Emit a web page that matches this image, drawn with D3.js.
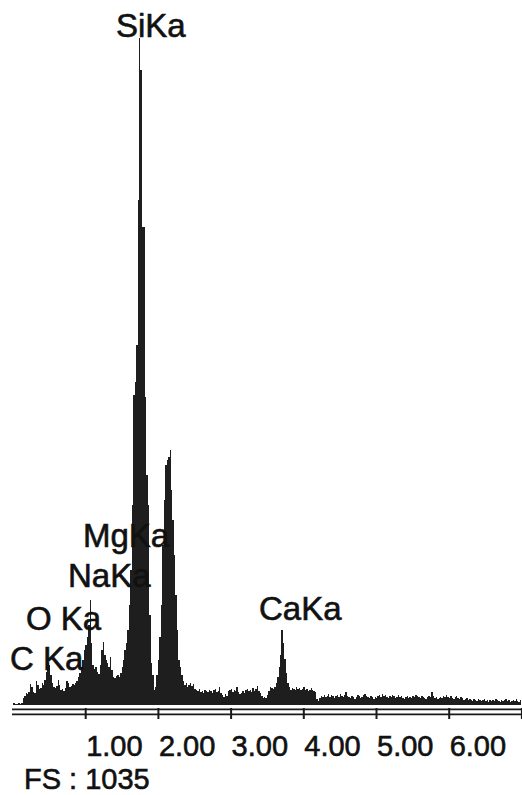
<!DOCTYPE html>
<html>
<head>
<meta charset="utf-8">
<script src="https://cdn.jsdelivr.net/npm/d3@7"></script>
<style>
  html, body { margin: 0; padding: 0; background: #ffffff; }
  svg { display: block; }
  text { font-family: "Liberation Sans", Arial, Helvetica, sans-serif; fill: #111; stroke: #111; stroke-width: 0.6px; }
</style>
</head>
<body>
<div id="chart"></div>
<script>
// ---- DATA ----
// EDS spectrum: counts per channel, channel width 0.02 keV, starting at 0 keV
const channelWidthKeV = 0.02;
const counts = [
  3,3,2,2,3,2,3,11,14,19,
  17,20,33,28,20,19,37,31,25,26,
  34,31,39,51,65,62,47,34,28,26,
  29,39,31,23,25,22,26,37,34,28,
  29,33,31,34,37,43,50,59,70,85,
  93,105,124,163,96,62,56,59,51,48,
  62,85,98,78,70,65,59,74,54,43,
  42,45,47,43,50,59,70,85,96,116,
  155,209,310,481,501,558,783,1035,985,742,
  742,478,357,310,140,65,47,23,28,47,
  70,105,155,248,318,372,380,385,396,333,
  287,233,171,116,70,59,47,37,31,34,
  28,31,34,29,33,25,23,22,25,20,
  22,19,23,22,20,23,22,19,23,25,
  20,22,28,19,16,12,17,14,22,23,
  25,20,23,22,28,20,17,19,22,19,
  23,25,22,23,20,26,22,25,29,22,
  19,14,11,12,11,16,22,28,26,25,
  28,34,43,59,78,116,96,71,50,34,
  28,23,26,25,23,28,25,26,23,25,
  28,23,25,22,23,26,23,22,20,9,
  6,11,14,12,16,12,14,17,12,16,
  14,11,14,16,12,17,14,12,16,20,
  14,12,11,14,12,9,12,16,14,11,
  12,16,17,14,12,11,14,12,9,12,
  11,14,16,12,17,14,16,12,11,14,
  12,16,14,11,12,16,12,14,11,9,
  12,14,11,12,11,14,12,16,14,12,
  11,14,12,11,9,12,14,12,20,14,
  11,12,9,11,12,11,14,12,16,12,
  11,14,11,9,12,14,11,9,12,11,
  8,9,11,8,9,8,6,9,8,6,
  9,8,6,8,9,6,8,5,8,6,
  8,6,9,8,6,5,8,6,8,9,
  6,8,5,6,8,6,9,6,5,8
];
const fullScale = 1035;
const energyMaxKeV = 7;
const tickValuesKeV = [1, 2, 3, 4, 5, 6, 7];
const tickLabels = ["1.00", "2.00", "3.00", "4.00", "5.00", "6.00"];
const peakLabels = ["SiKa", "MgKa", "NaKa", "O Ka", "C Ka", "CaKa"];
const footerText = "FS : 1035";

// ---- LAYOUT ----
const W = 522, H = 795;
const svg = d3.select("#chart").append("svg").attr("width", W).attr("height", H);

const x = d3.scaleLinear().domain([0, energyMaxKeV]).range([12.5, 521.4]);
const y = d3.scaleLinear().domain([0, fullScale]).range([705, 38]);

const pts = counts.map((c, i) => ({ e: i * channelWidthKeV, c }));
pts.push({ e: counts.length * channelWidthKeV, c: counts[counts.length - 1] });

const area = d3.area()
  .x(d => x(d.e))
  .y0(y(0))
  .y1(d => y(d.c))
  .curve(d3.curveStepAfter);

svg.append("path")
  .datum(pts)
  .attr("d", area)
  .attr("fill", "#1e1e1e")
  .attr("shape-rendering", "crispEdges");

// axis: double baseline + ticks
const axisG = svg.append("g").attr("transform", "translate(0,708)");
axisG.call(d3.axisBottom(x).tickValues(tickValuesKeV).tickSize(11).tickSizeOuter(0).tickFormat(""));
axisG.select(".domain").remove();
axisG.selectAll(".tick line").attr("stroke", "#1a1a1a").attr("stroke-width", 2);

[709.3, 714.3].forEach(yy => {
  svg.append("line")
    .attr("x1", 12).attr("x2", W)
    .attr("y1", yy).attr("y2", yy)
    .attr("stroke", "#1a1a1a").attr("stroke-width", 1.8);
});

// tick labels
svg.append("g").selectAll("text")
  .data(tickLabels)
  .join("text")
  .attr("x", (d, i) => x(tickValuesKeV[i]) + 1)
  .attr("y", 756)
  .attr("font-size", 29)
  .text(d => d);

// peak labels
const labelPos = {
  "SiKa": [116, 37],
  "MgKa": [83, 547],
  "NaKa": [68, 587],
  "O Ka": [26, 630],
  "C Ka": [10, 670],
  "CaKa": [259, 620]
};
svg.append("g").selectAll("text")
  .data(peakLabels)
  .join("text")
  .attr("x", d => labelPos[d][0])
  .attr("y", d => labelPos[d][1])
  .attr("font-size", 33)
  .text(d => d);

svg.append("text")
  .attr("x", 24).attr("y", 788.5)
  .attr("font-size", 29)
  .text(footerText);
</script>
</body>
</html>
